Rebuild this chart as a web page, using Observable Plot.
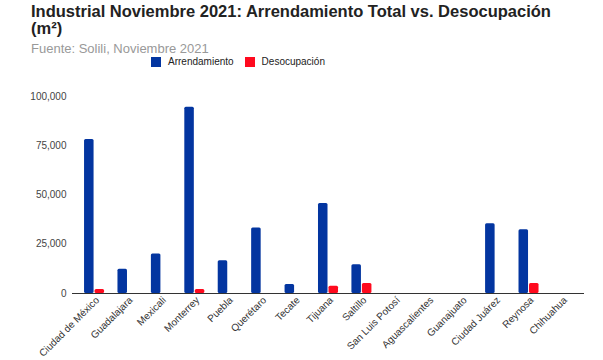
<!DOCTYPE html>
<html>
<head>
<meta charset="utf-8">
<script src="https://cdn.jsdelivr.net/npm/d3@7"></script>
<script src="https://cdn.jsdelivr.net/npm/@observablehq/plot@0.6"></script>
<style>
  html, body { margin: 0; padding: 0; background: #fff; }
  body { width: 603px; height: 360px; overflow: hidden; font-family: Arial, "Liberation Sans", sans-serif; }
  #head { position: relative; height: 72px; }
  #title { position: absolute; left: 31px; top: 3px; width: 540px; font-weight: bold; font-size: 16.5px; line-height: 17px; color: #222; }
  #sub { position: absolute; left: 31px; top: 41px; font-size: 13px; color: #999; }
  #legend { position: absolute; left: 151px; top: 56px; font-size: 10px; color: #222; display: flex; align-items: center; }
  #legend span.sw { display: inline-block; width: 10px; height: 10px; margin-right: 7px; }
  #legend span.item { display: flex; align-items: center; margin-right: 11px; }
</style>
</head>
<body>
<div id="head">
  <div id="title"></div>
  <div id="sub"></div>
  <div id="legend"></div>
</div>
<div id="chart"></div>
<script>
const titleText = "Industrial Noviembre 2021: Arrendamiento Total vs. Desocupación (m²)";
const subtitleText = "Fuente: Solili, Noviembre 2021";
const cities = ["Ciudad de México", "Guadalajara", "Mexicali", "Monterrey", "Puebla", "Querétaro", "Tecate", "Tijuana", "Saltillo", "San Luis Potosí", "Aguascalientes", "Guanajuato", "Ciudad Juárez", "Reynosa", "Chihuahua"];
const seriesNames = ["Arrendamiento", "Desocupación"];
const arrendamiento = [78200, 12300, 20000, 94600, 16600, 33300, 4600, 45700, 14600, 0, 0, 0, 35400, 32300, 0];
const desocupacion = [2000, 0, 0, 2000, 0, 0, 0, 3700, 5100, 0, 0, 0, 0, 5100, 0];
const yTicks = [0, 25000, 50000, 75000, 100000];
const colors = ["#0335a0", "#ff0a1e"];

document.getElementById("title").textContent = titleText;
document.getElementById("sub").textContent = subtitleText;
const leg = document.getElementById("legend");
seriesNames.forEach((n, i) => {
  const it = document.createElement("span"); it.className = "item";
  const sw = document.createElement("span"); sw.className = "sw"; sw.style.background = colors[i];
  it.appendChild(sw); it.appendChild(document.createTextNode(n));
  leg.appendChild(it);
});

const rowsA = cities.map((c, i) => ({city: c, value: arrendamiento[i], series: seriesNames[0]}));
const rowsD = cities.map((c, i) => ({city: c, value: desocupacion[i], series: seriesNames[1]}));

const chart = Plot.plot({
  width: 603,
  height: 288,
  marginLeft: 72,
  marginRight: 19,
  marginTop: 24,
  marginBottom: 67,
  style: {fontFamily: "Arial, 'Liberation Sans', sans-serif", fontSize: "10px", color: "#222", background: "#fff"},
  x: {type: "band", domain: cities, paddingInner: 0, paddingOuter: 0.16, round: false, label: null},
  y: {domain: [0, 100000], label: null},
  color: {domain: seriesNames, range: colors},
  marks: [
    Plot.axisY({ticks: yTicks, tickFormat: d3.format(","), tickSize: 0, tickPadding: 6, fill: "#444", fontSize: 10, label: null}),
    Plot.axisX({tickSize: 0, tickRotate: -45, tickPadding: 5, dx: 3, fill: "#333", fontSize: 10, label: null}),
    Plot.barY(rowsA, {x: "city", y: "value", fill: "series", insetLeft: 6.7, insetRight: 17.2, rx: 1.5}),
    Plot.barY(rowsD, {x: "city", y: "value", fill: "series", insetLeft: 17.2, insetRight: 6.7, rx: 1.5}),
    Plot.ruleY([0], {stroke: "#333", strokeWidth: 1})
  ]
});
document.getElementById("chart").appendChild(chart);
</script>
</body>
</html>
